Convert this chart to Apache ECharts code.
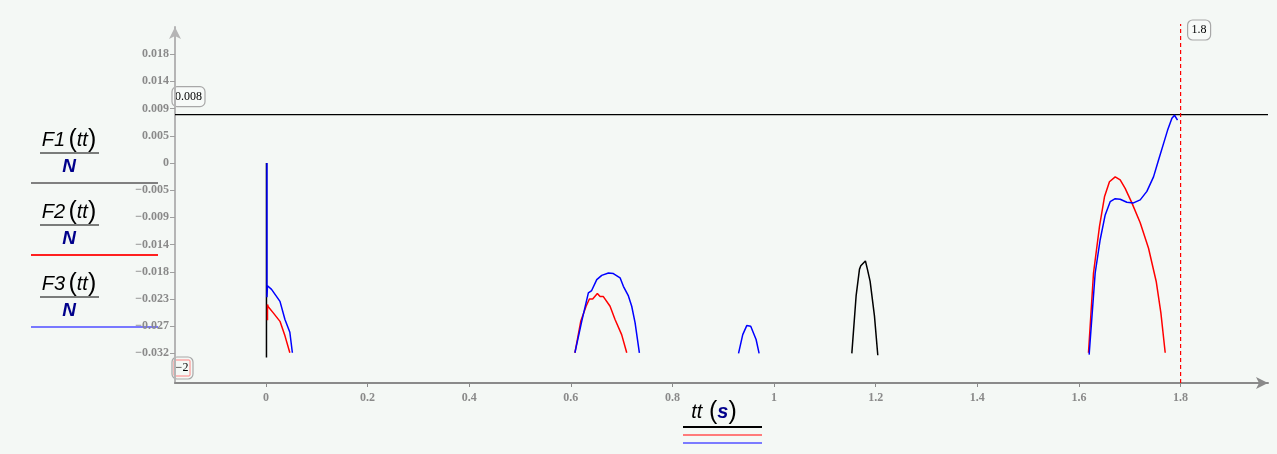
<!DOCTYPE html>
<html>
<head>
<meta charset="utf-8">
<script src="https://cdn.jsdelivr.net/npm/echarts@6/dist/echarts.min.js"></script>
<style>
html,body{margin:0;padding:0;background:#f4f8f5;}
#c{width:1277px;height:454px;}
</style>
</head>
<body>
<div id="c"></div>
<script>
// ---- data ----
const xTicks = [0, 0.2, 0.4, 0.6, 0.8, 1, 1.2, 1.4, 1.6, 1.8];
const yTicks = [-0.0315, -0.027, -0.0225, -0.018, -0.0135, -0.009, -0.0045, 0, 0.0045, 0.009, 0.0135, 0.018];

const f1Start = [[0.001, -0.0322], [0.001, 0]];
const f1Peak = [[1.153, -0.0315], [1.1614, -0.022], [1.168, -0.0176], [1.1706, -0.017], [1.1745, -0.0168], [1.1797, -0.0162], [1.1837, -0.0176], [1.189, -0.0196], [1.1975, -0.0253], [1.2041, -0.0318]];

const f2Start = [[0.003, -0.026], [0.003, -0.0234], [0.0045, -0.0238], [0.0079, -0.0241], [0.0144, -0.0248], [0.0276, -0.0262], [0.0374, -0.0286], [0.047, -0.0314]];
const f2Mid = [[0.608, -0.0314], [0.6195, -0.0262], [0.63, -0.0237], [0.6365, -0.0225], [0.643, -0.0225], [0.6522, -0.0216], [0.6575, -0.0221], [0.664, -0.0221], [0.6772, -0.0237], [0.687, -0.0259], [0.7, -0.0284], [0.71, -0.0314]];
const f2End = [[1.6187, -0.0314], [1.6286, -0.0182], [1.6404, -0.0105], [1.6502, -0.0056], [1.66, -0.0031], [1.6713, -0.0023], [1.6811, -0.0028], [1.6909, -0.0042], [1.7041, -0.0066], [1.7205, -0.0099], [1.7369, -0.0141], [1.752, -0.0196], [1.7612, -0.0248], [1.7697, -0.0314]];

const f3Start = [[0.002, 0], [0.002, -0.0222], [0.003, -0.0203], [0.0065, -0.0203], [0.011, -0.0209], [0.0276, -0.0229], [0.0374, -0.0259], [0.047, -0.028], [0.052, -0.0314]];
const f3Mid = [[0.608, -0.0314], [0.6214, -0.0262], [0.6345, -0.0215], [0.641, -0.0211], [0.651, -0.0193], [0.6608, -0.0186], [0.674, -0.0182], [0.6837, -0.0183], [0.6969, -0.019], [0.7034, -0.0204], [0.7133, -0.022], [0.7198, -0.0237], [0.7264, -0.0264], [0.7349, -0.0314]];
const f3Small = [[0.93, -0.0315], [0.9383, -0.0284], [0.9462, -0.0269], [0.954, -0.027], [0.9646, -0.0292], [0.9705, -0.0315]];
const f3End = [[1.62, -0.0317], [1.6319, -0.0182], [1.6417, -0.0127], [1.6516, -0.0086], [1.6614, -0.0064], [1.6713, -0.0059], [1.6811, -0.006], [1.6942, -0.0065], [1.7073, -0.0066], [1.7205, -0.0061], [1.7336, -0.0047], [1.7467, -0.0023], [1.7566, 0.0005], [1.7664, 0.0032], [1.7743, 0.0054], [1.7829, 0.0074], [1.788, 0.0079], [1.7939, 0.0071]];

const hMarker = 0.008;
const vMarker = 1.8;
const xMin = -0.179, xMax = 1.972;
const yMin = -0.0364, yMax = 0.0225;

// ---- chart ----
const chart = echarts.init(document.getElementById('c'));
const serif = 'Liberation Serif';
function seg(data, color, extra) {
  return Object.assign({
    type: 'line', data: data, showSymbol: false, symbol: 'none',
    lineStyle: { color: color, width: 1.5 }, animation: false, silent: true, z: 3
  }, extra || {});
}
function fmtY(v) {
  if (Math.abs(v) < 1e-9) return '0';
  const a = Math.round(Math.abs(v) * 1000 + 1e-7) / 1000;
  return (v < 0 ? '\u2212' : '') + a.toFixed(3);
}
const option = {
  backgroundColor: '#f4f8f5',
  animation: false,
  grid: { left: 175, right: 9, top: 27, bottom: 71, containLabel: false },
  xAxis: {
    type: 'value', min: xMin, max: xMax,
    axisLine: { onZero: false, lineStyle: { color: '#8a8a8a', width: 2 }, symbol: ['none', 'arrow'], symbolSize: [9, 12] },
    axisTick: { show: true, customValues: xTicks, length: 4, lineStyle: { color: '#8a8a8a', width: 1 } },
    axisLabel: { customValues: xTicks, formatter: v => String(+v.toFixed(1)), color: '#8a8a8a', fontFamily: serif, fontWeight: 'bold', fontSize: 12, margin: 9 },
    splitLine: { show: false }
  },
  yAxis: {
    type: 'value', min: yMin, max: yMax,
    axisLine: { show: true, onZero: false, lineStyle: { color: '#b5b5b5', width: 2 }, symbol: ['none', 'arrow'], symbolSize: [9, 12] },
    axisTick: { show: true, customValues: yTicks, length: 5, lineStyle: { color: '#a0a0a0', width: 1 } },
    axisLabel: { customValues: yTicks, formatter: fmtY, color: '#8a8a8a', fontFamily: serif, fontWeight: 'bold', fontSize: 12, margin: 6 },
    splitLine: { show: false }
  },
  series: [
    seg([[xMin, hMarker], [xMax, hMarker]], '#000000', { lineStyle: { color: '#000', width: 1.2 }, z: 2 }),
    seg([[vMarker, yMin], [vMarker, yMax + 0.0005]], '#ff0000', { lineStyle: { color: '#ff0000', width: 1.2, type: [4, 3] }, z: 2, clip: false }),
    seg(f1Start, '#000000'),
    seg(f1Peak, '#000000'),
    seg(f2Start, '#ff0000'),
    seg(f2Mid, '#ff0000'),
    seg(f2End, '#ff0000'),
    seg(f3Start, '#0000ff'),
    seg(f3Mid, '#0000ff'),
    seg(f3Small, '#0000ff'),
    seg(f3End, '#0000ff')
  ]
};
chart.setOption(option);

// ---- annotations / legends ----
const pH = chart.convertToPixel({ gridIndex: 0 }, [xMin, hMarker]);
const pV = chart.convertToPixel({ gridIndex: 0 }, [vMarker, yMax]);
const pO = chart.convertToPixel({ gridIndex: 0 }, [xMin, yMin]);

function box(x, y, w, h, text) {
  return {
    type: 'group', x: x, y: y, children: [
      { type: 'rect', shape: { x: 0, y: 0, width: w, height: h, r: 5 }, style: { fill: 'rgba(255,255,255,0.3)', stroke: '#a8a8a8', lineWidth: 1.2 } },
      { type: 'text', x: w / 2, y: h / 2, style: { text: text, fill: '#000', font: '12px "Liberation Serif"', align: 'center', verticalAlign: 'middle' } }
    ]
  };
}
function frac(cx, y, num, lineColor) {
  return {
    type: 'group', x: 0, y: y, children: [
      { type: 'text', x: cx, y: 0, style: {
        text: '{i|' + num + '} {p|(}{i|tt}{p|)}',
        rich: {
          i: { font: 'italic 20px "Liberation Sans"', fill: '#000' },
          p: { font: '25px "Liberation Sans"', fill: '#000' }
        },
        align: 'center', verticalAlign: 'middle' } },
      { type: 'line', shape: { x1: cx - 29, y1: 13, x2: cx + 30, y2: 13 }, style: { stroke: '#000', lineWidth: 1 } },
      { type: 'text', x: cx, y: 27, style: { text: 'N', font: 'italic bold 19px "Liberation Sans"', fill: '#00008b', align: 'center', verticalAlign: 'middle' } },
      { type: 'line', shape: { x1: 31, y1: 43, x2: 158, y2: 43 }, style: { stroke: lineColor, lineWidth: 2 } }
    ]
  };
}
chart.setOption({
  graphic: [
    box(pH[0] - 3, pH[1] - 28, 33, 20, '0.008'),
    box(pV[0] + 7, 20, 23, 20, '1.8'),
    {
      type: 'group', x: pO[0] - 3, y: pO[1] - 26, children: [
        { type: 'rect', shape: { x: 0, y: 0, width: 21, height: 22, r: 5 }, style: { fill: 'none', stroke: '#a8a8a8', lineWidth: 1.2 } },
        { type: 'rect', shape: { x: 2, y: 3, width: 16, height: 16, r: 1 }, style: { fill: 'none', stroke: '#ff8080', lineWidth: 1 } },
        { type: 'text', x: 10, y: 11, style: { text: '\u22122', fill: '#000', font: '12px "Liberation Serif"', align: 'center', verticalAlign: 'middle' } }
      ]
    },
    frac(69, 140, 'F1', '#808080'),
    frac(69, 212, 'F2', '#ff2020'),
    frac(69, 284, 'F3', '#7878ff'),
    {
      type: 'text', x: 714, y: 412, style: {
        text: '{i|tt}  {p|(}{s|s}{p|)}',
        rich: {
          i: { font: 'italic 20px "Liberation Sans"', fill: '#000' },
          p: { font: '25px "Liberation Sans"', fill: '#000' },
          s: { font: 'italic bold 20px "Liberation Sans"', fill: '#00008b' }
        },
        align: 'center', verticalAlign: 'middle' }
    },
    { type: 'line', shape: { x1: 683, y1: 427, x2: 762, y2: 427 }, style: { stroke: '#000', lineWidth: 2 } },
    { type: 'line', shape: { x1: 683, y1: 435, x2: 762, y2: 435 }, style: { stroke: '#ff7b7b', lineWidth: 2 } },
    { type: 'line', shape: { x1: 683, y1: 443, x2: 762, y2: 443 }, style: { stroke: '#7b7bff', lineWidth: 2 } }
  ]
});
</script>
</body>
</html>
